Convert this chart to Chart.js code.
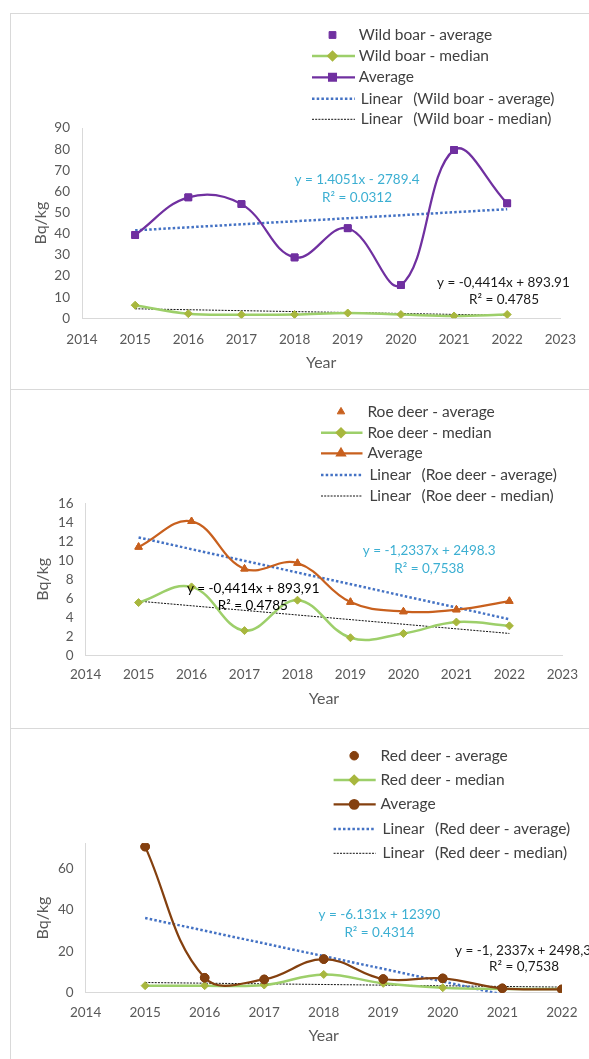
<!DOCTYPE html>
<html>
<head>
<meta charset="utf-8">
<script src="https://cdn.jsdelivr.net/npm/chart.js@4.4.1/dist/chart.umd.min.js"></script>
<style>
html,body{margin:0;padding:0;background:#fff;width:589px;height:1059px;overflow:hidden}
.vline{position:absolute;left:10px;top:13px;width:1px;height:1046px;background:#d9d9d9}
.hline{position:absolute;left:10px;width:579px;height:1px;background:#d9d9d9}
.panel{position:absolute;left:12px;width:577px}
</style>
</head>
<body>
<div class="vline"></div>
<div class="hline" style="top:13px"></div>
<div class="hline" style="top:389px"></div>
<div class="hline" style="top:728px"></div>
<div class="panel" style="top:14px;height:374px"><canvas id="c1"></canvas></div>
<div class="panel" style="top:390px;height:337px"><canvas id="c2"></canvas></div>
<div class="panel" style="top:729px;height:330px"><canvas id="c3"></canvas></div>
<script>
// ---------- data ----------
const years = [2015, 2016, 2017, 2018, 2019, 2020, 2021, 2022];
const trendYears = [2015, 2022];

const boarAverage = [39.4, 57.2, 54.0, 28.8, 42.6, 15.7, 79.6, 54.4];
const boarMedian  = [6.2, 2.2, 1.7, 1.8, 2.5, 1.8, 1.1, 1.8];
const boarTrendAvg = [41.6, 51.6];
const boarTrendMed = [4.5, 1.4];

const roeAverage = [11.4, 14.1, 9.1, 9.7, 5.6, 4.6, 4.8, 5.7];
const roeMedian  = [5.55, 7.2, 2.6, 5.8, 1.85, 2.3, 3.5, 3.1];
const roeTrendAvg = [12.4, 3.8];
const roeTrendMed = [5.7, 2.3];

const redAverage = [70.4, 7.2, 6.4, 16.2, 6.6, 6.9, 2.1, 1.6];
const redMedian  = [3.4, 3.4, 3.7, 8.8, 4.5, 2.4, 1.8, 1.8];
const redTrendAvg = [36.0, -6.9];
const redTrendMed = [4.9, 2.7];

const boarYTicks = {min: 0, max: 90, step: 10};
const roeYTicks  = {min: 0, max: 16, step: 2};
const redYTicks  = {min: 0, max: 72, step: 20};

// ---------- styles ----------
const FONT = 'Lato';
const TICK_COLOR = '#595959';
const AXIS_COLOR = '#d9d9d9';
const BLUE = '#4472C4';
const CYAN = '#3CAFD2';
const GREEN_LINE = '#9DCF6A';
const GREEN_MARK = '#A8B73E';

Chart.defaults.font.family = FONT;
Chart.defaults.animation = false;

function pts(xs, ys) { return xs.map((x, i) => ({x: x, y: ys[i]})); }

const legendPlugin = {
  id: 'sideLegend',
  afterDraw(chart, args, o) {
    if (!o || !o.items) return;
    const ctx = chart.ctx;
    ctx.save();
    ctx.font = o.fontSize + 'px ' + FONT;
    ctx.textBaseline = 'middle';
    ctx.textAlign = 'left';
    o.items.forEach((it, i) => {
      const y = o.rows[i];
      const ds = chart.data.datasets[it.ds];
      if (it.line) {
        ctx.beginPath();
        ctx.strokeStyle = ds.borderColor;
        ctx.lineWidth = ds.borderWidth;
        ctx.setLineDash(ds.borderDash || []);
        ctx.moveTo(o.x0, y);
        ctx.lineTo(o.x1, y);
        ctx.stroke();
        ctx.setLineDash([]);
      }
      if (it.marker) {
        ctx.fillStyle = ds.pointBackgroundColor;
        ctx.strokeStyle = ds.pointBorderColor;
        Chart.helpers.drawPoint(ctx, {pointStyle: ds.pointStyle, radius: ds.pointRadius, borderWidth: 1, rotation: 0}, o.xm, y);
      }
      ctx.fillStyle = o.color;
      if (it.prefix) {
        ctx.fillText(it.prefix, o.xt + 2, y);
        ctx.fillText(it.text, o.xp, y);
      } else {
        ctx.fillText(it.text, o.xt, y);
      }
    });
    ctx.restore();
  }
};

const textPlugin = {
  id: 'eqLabels',
  afterDraw(chart, args, o) {
    if (!o || !o.items) return;
    const ctx = chart.ctx;
    ctx.save();
    ctx.textBaseline = 'middle';
    o.items.forEach(t => {
      ctx.font = (t.weight || 'normal') + ' ' + t.size + 'px ' + FONT;
      ctx.fillStyle = t.color;
      ctx.textAlign = t.align || 'center';
      ctx.fillText(t.text, t.x, t.y);
    });
    ctx.restore();
  }
};

function seriesSets(avg, med, tAvg, tMed, color, style, radius, avgLabel, medLabel, trendLabels) {
  return [
    { label: avgLabel, data: pts(years, avg), showLine: false, pointStyle: style, pointRadius: radius,
      pointBorderWidth: 1, pointBackgroundColor: color, pointBorderColor: color, borderColor: color, backgroundColor: color, order: 0 },
    { label: medLabel, data: pts(years, med), borderColor: GREEN_LINE, borderWidth: 2.5, tension: 0.4,
      pointStyle: 'rectRot', pointRadius: 4, pointBorderWidth: 1, pointBackgroundColor: GREEN_MARK, pointBorderColor: GREEN_MARK, order: 2 },
    { label: 'Average', data: pts(years, avg), borderColor: color, borderWidth: 2.25, tension: 0.4,
      pointStyle: style, pointRadius: radius, pointBorderWidth: 1, pointBackgroundColor: color, pointBorderColor: color, order: 1 },
    { label: trendLabels[0], data: pts(trendYears, tAvg), borderColor: BLUE, borderWidth: 2.5, borderDash: [2.5, 2.2],
      pointRadius: 0, tension: 0, order: 3 },
    { label: trendLabels[1], data: pts(trendYears, tMed), borderColor: '#111', borderWidth: 1, borderDash: [2, 1.2],
      pointRadius: 0, tension: 0, order: 4 }
  ];
}

function makeChart(id, p) {
  const yt = p.yTicks;
  return new Chart(document.getElementById(id), {
    type: 'line',
    data: { datasets: p.datasets },
    plugins: [legendPlugin, textPlugin],
    options: {
      responsive: true,
      maintainAspectRatio: false,
      events: [],
      layout: { padding: { left: 10, top: p.top, right: p.right, bottom: 0 } },
      plugins: {
        legend: { display: false },
        tooltip: { enabled: false },
        sideLegend: p.legend,
        eqLabels: { items: p.labels }
      },
      scales: {
        x: {
          type: 'linear', min: 2014, max: p.xMax,
          grid: { display: false, drawTicks: false },
          border: { color: AXIS_COLOR, width: 1 },
          ticks: { stepSize: 1, autoSkip: false, maxRotation: 0, color: TICK_COLOR,
                   font: { size: 13.5 }, padding: p.xTickPad, callback: v => String(v) },
          title: { display: true, text: 'Year', color: TICK_COLOR, font: { size: 16 },
                   padding: { top: 0, bottom: p.xTitlePad } },
          afterFit: s => { s.height = p.xH; }
        },
        y: {
          type: 'linear', min: yt.min, max: yt.max,
          grid: { display: false, drawTicks: false },
          border: { color: AXIS_COLOR, width: 1 },
          ticks: { stepSize: yt.step, autoSkip: false, color: TICK_COLOR, font: { size: 13.5 }, padding: p.yTickPad },
          afterBuildTicks: s => { s.ticks = s.ticks.filter(t => Math.abs(t.value / yt.step - Math.round(t.value / yt.step)) < 1e-9); },
          title: { display: true, text: 'Bq/kg', color: TICK_COLOR, font: { size: 16 },
                   padding: { top: p.yTitlePad, bottom: 0 } },
          afterFit: s => { s.width = p.yW; }
        }
      }
    }
  });
}

function legendItems(a, m) {
  return [
    { ds: 0, marker: true, text: a },
    { ds: 1, line: true, marker: true, text: m },
    { ds: 2, line: true, marker: true, text: 'Average' },
    { ds: 3, line: true, prefix: 'Linear', text: '(' + a + ')' },
    { ds: 4, line: true, prefix: 'Linear', text: '(' + m + ')' }
  ];
}

// ---------- chart 1: wild boar ----------
makeChart('c1', {
  datasets: seriesSets(boarAverage, boarMedian, boarTrendAvg, boarTrendMed, '#7030A0', 'rect', 4.8,
    'Wild boar - average', 'Wild boar - median', ['Linear (Wild boar - average)', 'Linear (Wild boar - median)']),
  yTicks: boarYTicks, xMax: 2023,
  top: 114, right: 25.5, xH: 69.7, yW: 60, xTickPad: 13, yTickPad: 12, xTitlePad: 15.5, yTitlePad: 9.5,
  legend: { items: legendItems('Wild boar - average', 'Wild boar - median'), rows: [21, 42, 63.3, 84.7, 105.3],
            x0: 300, x1: 343, xm: 320.5, xt: 346.8, xp: 401.2, fontSize: 15.5, color: '#404040' },
  labels: [
    { text: 'y = 1.4051x - 2789.4', x: 345, y: 166, color: CYAN, size: 13.5 },
    { text: 'R² = 0.0312', x: 345, y: 183.7, color: CYAN, size: 13.5 },
    { text: 'y = -0,4414x + 893.91', x: 491.4, y: 268.7, color: '#1a1a1a', size: 13.5 },
    { text: 'R² = 0.4785', x: 492, y: 286, color: '#1a1a1a', size: 13.5 }
  ]
});

// ---------- chart 2: roe deer ----------
makeChart('c2', {
  datasets: seriesSets(roeAverage, roeMedian, roeTrendAvg, roeTrendMed, '#C8601E', 'triangle', 4.3,
    'Roe deer - average', 'Roe deer - median', ['Linear (Roe deer - average)', 'Linear (Roe deer - median)']),
  yTicks: roeYTicks, xMax: 2023,
  top: 113.3, right: 21.8, xH: 71.7, yW: 63.6, xTickPad: 11, yTickPad: 12, xTitlePad: 19, yTitlePad: 11.4,
  legend: { items: legendItems('Roe deer - average', 'Roe deer - median'), rows: [21.7, 42.7, 63.3, 85, 106],
            x0: 309, x1: 350.5, xm: 329, xt: 355.4, xp: 409.5, fontSize: 15.5, color: '#404040' },
  labels: [
    { text: 'y = -1,2337x + 2498.3', x: 417.2, y: 160.7, color: CYAN, size: 13.5 },
    { text: 'R² = 0,7538', x: 417.2, y: 178.3, color: CYAN, size: 13.5 },
    { text: 'y = -0,4414x + 893,91', x: 241.2, y: 198.3, color: '#000', size: 13.5 },
    { text: 'R² = 0.4785', x: 240.8, y: 216, color: '#000', size: 13.5 }
  ]
});

// ---------- chart 3: red deer ----------
makeChart('c3', {
  datasets: seriesSets(redAverage, redMedian, redTrendAvg, redTrendMed, '#84400F', 'circle', 4.3,
    'Red deer - average', 'Red deer - median', ['Linear (Red deer - average)', 'Linear (Red deer - median)']),
  yTicks: redYTicks, xMax: 2022,
  top: 114.3, right: 21.8, xH: 66.3, yW: 63.6, xTickPad: 11.5, yTickPad: 12, xTitlePad: 13.5, yTitlePad: 11.4,
  legend: { items: legendItems('Red deer - average', 'Red deer - median'), rows: [26.7, 51, 75.3, 100, 124.3],
            x0: 321.6, x1: 363.7, xm: 342.2, xt: 368.5, xp: 423, fontSize: 15.5, color: '#404040' },
  labels: [
    { text: 'y = -6.131x + 12390', x: 367.4, y: 186, color: CYAN, size: 13.5 },
    { text: 'R² = 0.4314', x: 367.4, y: 203.7, color: CYAN, size: 13.5 },
    { text: 'y = -1, 2337x + 2498,3', x: 443, y: 221.7, color: '#1a1a1a', size: 13.5, align: 'left' },
    { text: 'R² = 0,7538', x: 512, y: 238, color: '#1a1a1a', size: 13.5 }
  ]
});
</script>
</body>
</html>
